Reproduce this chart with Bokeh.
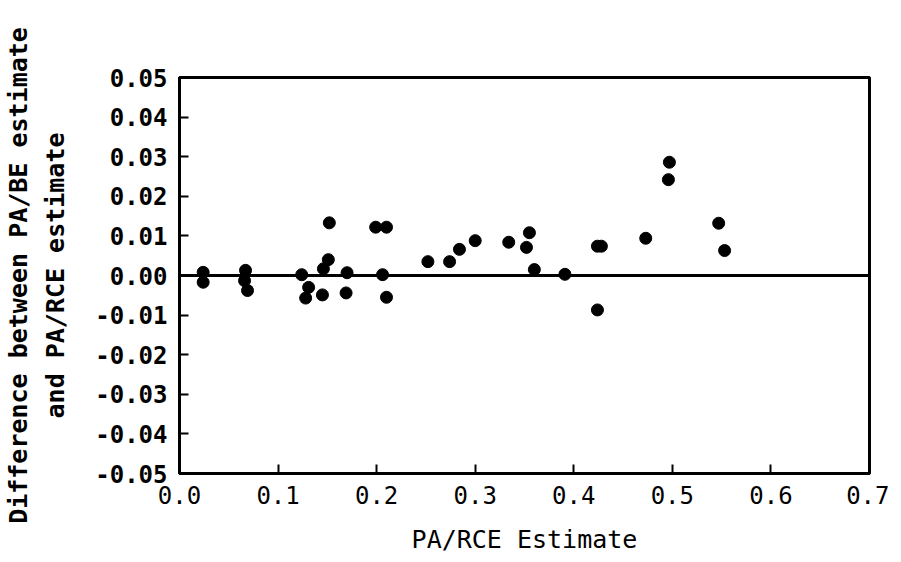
from bokeh.plotting import figure
from bokeh.models import Range1d, Span, LinearAxis, FixedTicker, PrintfTickFormatter
from bokeh.embed import file_html
from bokeh.resources import INLINE

# PA/RCE estimate (x) and difference PA/BE - PA/RCE (y)
pa_rce = [0.024, 0.024, 0.067, 0.066, 0.069, 0.124, 0.131, 0.128, 0.145, 0.146,
          0.151, 0.152, 0.170, 0.169, 0.199, 0.210, 0.206, 0.210, 0.252, 0.274,
          0.284, 0.300, 0.334, 0.352, 0.355, 0.360, 0.391, 0.424, 0.424, 0.428,
          0.473, 0.497, 0.496, 0.547, 0.553]
diff = [0.0008, -0.0017, 0.0013, -0.0013, -0.0038, 0.0002, -0.0030, -0.0057, -0.0049, 0.0017,
        0.0040, 0.0133, 0.0007, -0.0044, 0.0122, 0.0122, 0.0002, -0.0055, 0.0035, 0.0035,
        0.0066, 0.0088, 0.0084, 0.0071, 0.0108, 0.0015, 0.0003, -0.0087, 0.0074, 0.0074,
        0.0094, 0.0286, 0.0242, 0.0132, 0.0063]

x_ticks = [0.0, 0.1, 0.2, 0.3, 0.4, 0.5, 0.6, 0.7]
y_ticks = [-0.05, -0.04, -0.03, -0.02, -0.01, 0.0, 0.01, 0.02, 0.03, 0.04, 0.05]

FONT = "DejaVu Sans Mono"

p = figure(width=889, height=556, output_backend="svg", toolbar_location=None,
           x_range=Range1d(0, 0.7), y_range=Range1d(-0.05, 0.05),
           min_border_left=174, min_border_top=77, min_border_right=20,
           min_border_bottom=81)
p.grid.visible = False
p.outline_line_color = "black"
p.outline_line_width = 3
p.background_fill_color = "white"
p.border_fill_color = "white"

p.scatter(pa_rce, diff, size=12, color="black")
p.add_layout(Span(location=0, dimension="width", line_color="black", line_width=3))

for ax in (p.xaxis[0], p.yaxis[0]):
    ax.axis_line_width = 3
    ax.axis_line_color = "black"
    ax.major_tick_in = 9
    ax.major_tick_out = 0
    ax.major_tick_line_width = 2
    ax.minor_tick_line_color = None
    ax.major_label_text_font = FONT
    ax.major_label_text_font_size = "24px"
    ax.major_label_text_color = "black"
    ax.axis_label_text_font = FONT
    ax.axis_label_text_font_size = "25px"
    ax.axis_label_text_font_style = "normal"
    ax.axis_label_text_color = "black"
    ax.major_label_standoff = 12

p.xaxis[0].ticker = FixedTicker(ticks=x_ticks)
p.xaxis[0].formatter = PrintfTickFormatter(format="%.1f")
p.xaxis[0].axis_label = "PA/RCE Estimate"
p.xaxis[0].axis_label_standoff = 18

p.yaxis[0].ticker = FixedTicker(ticks=y_ticks)
p.yaxis[0].formatter = PrintfTickFormatter(format="%.2f")
p.yaxis[0].major_label_text_font_style = "bold"
p.yaxis[0].axis_label = "and PA/RCE estimate"
p.yaxis[0].axis_label_text_font_style = "bold"
p.yaxis[0].axis_label_standoff = 22

outer = LinearAxis(ticker=FixedTicker(ticks=[]), axis_line_color=None,
                   major_tick_line_color=None, minor_tick_line_color=None,
                   axis_label="Difference between PA/BE estimate",
                   axis_label_text_font=FONT, axis_label_text_font_size="25px",
                   axis_label_text_font_style="bold", axis_label_text_color="black",
                   axis_label_standoff=6)
p.add_layout(outer, "left")

open("out.html", "w").write(file_html(p, INLINE))
